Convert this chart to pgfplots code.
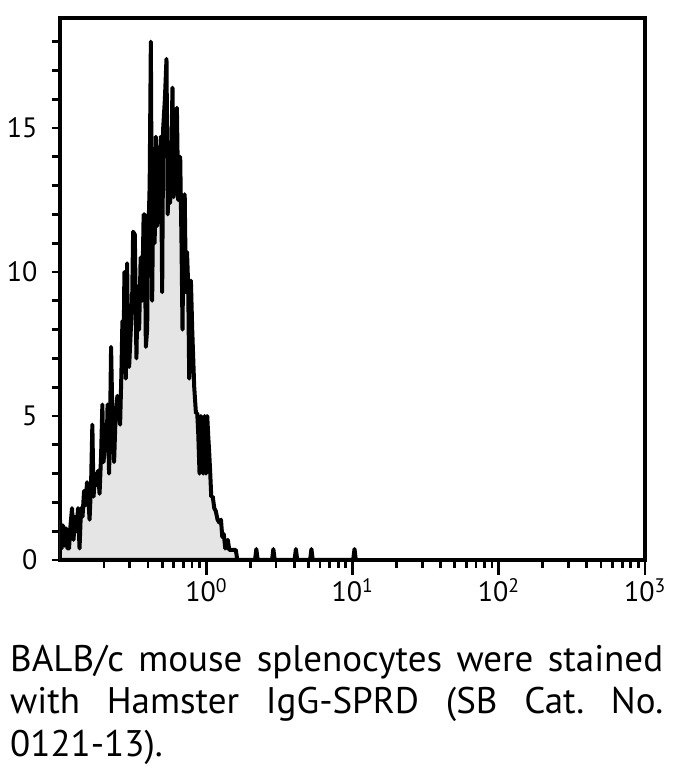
\documentclass[border=0pt]{standalone}
\usepackage{pgfplots}
\pgfplotsset{compat=1.18}
\usepackage{fontspec}
\setmainfont{PT Sans}
\begin{document}
\frenchspacing
\begin{tikzpicture}
\useasboundingbox (0,0) rectangle (673pt,772pt);
\begin{axis}[
  at={(60pt,212pt)}, anchor=south west,
  scale only axis, width=585pt, height=542pt,
  xmin=-1, xmax=3, ymin=0, ymax=18.82,
  axis line style={line width=3.2pt},
  tick style={line width=2.8pt, black},
  tick align=outside,
  xtick pos=bottom, ytick pos=left,
  major tick length=15pt, minor tick length=8pt,
  ytick={0,5,10,15},
  yticklabels={0,5,10,15},
  major y tick style={draw=none},
  minor ytick={0,1,2,3,4,5,6,7,8,9,10,11,12,13,14,15,16,17,18},
  xtick={0,1,2,3},
  xticklabels={10\textsuperscript{0},10\textsuperscript{1},10\textsuperscript{2},10\textsuperscript{3}},
  minor xtick={-0.69897,-0.52288,-0.39794,-0.30103,-0.22185,-0.15490,-0.09691,-0.04576,
               0.30103,0.47712,0.60206,0.69897,0.77815,0.84510,0.90309,0.95424,
               1.30103,1.47712,1.60206,1.69897,1.77815,1.84510,1.90309,1.95424,
               2.30103,2.47712,2.60206,2.69897,2.77815,2.84510,2.90309,2.95424},
  ticklabel style={font=\fontsize{28}{28}\selectfont},
  yticklabel style={xshift=-4pt},
]
\addplot[draw=black, line width=4pt, line join=round, fill=black!10] coordinates {
(-1.0000,1.4) (-0.9897,0.4) (-0.9795,1.2) (-0.9692,0.5) (-0.9589,1.1) (-0.9486,0.4) (-0.9384,0.4) (-0.9281,1.2) (-0.9178,1.8) (-0.9075,0.7) (-0.8973,1.5) (-0.8870,1.0) (-0.8767,1.8) (-0.8664,0.4) (-0.8562,1.8) (-0.8459,1.5) (-0.8356,2.4) (-0.8253,1.9) (-0.8151,2.7) (-0.8048,2.0) (-0.7979,1.4) (-0.7877,2.6) (-0.7788,4.7) (-0.7705,2.2) (-0.7603,3.0) (-0.7500,2.6) (-0.7397,3.1) (-0.7295,2.3) (-0.7192,3.6) (-0.7103,5.4) (-0.7021,3.4) (-0.6918,4.2) (-0.6815,3.8) (-0.6747,5.4) (-0.6644,3.0) (-0.6575,4.8) (-0.6507,7.4) (-0.6404,4.6) (-0.6301,3.4) (-0.6199,5.0) (-0.6075,5.7) (-0.5993,5.2) (-0.5890,4.7) (-0.5801,6.5) (-0.5733,8.3) (-0.5664,6.8) (-0.5596,10.0) (-0.5500,6.3) (-0.5411,10.3) (-0.5342,7.5) (-0.5274,6.7) (-0.5158,8.0) (-0.5068,9.0) (-0.5000,11.4) (-0.4884,11.3) (-0.4774,7.0) (-0.4692,9.5) (-0.4589,8.0) (-0.4486,10.5) (-0.4384,9.0) (-0.4281,12.0) (-0.4212,12.0) (-0.4130,7.4) (-0.4041,8.0) (-0.3973,11.0) (-0.3870,13.0) (-0.3788,18.0) (-0.3699,9.0) (-0.3610,13.4) (-0.3527,11.0) (-0.3445,14.7) (-0.3356,11.6) (-0.3288,12.5) (-0.3219,13.4) (-0.3103,14.7) (-0.3014,9.3) (-0.2945,15.0) (-0.2829,16.0) (-0.2719,17.4) (-0.2637,12.0) (-0.2568,13.0) (-0.2466,12.4) (-0.2397,14.0) (-0.2308,16.4) (-0.2226,12.6) (-0.2158,13.5) (-0.2089,12.8) (-0.2007,15.7) (-0.1918,12.5) (-0.1849,13.2) (-0.1781,14.0) (-0.1692,11.0) (-0.1623,8.0) (-0.1555,11.5) (-0.1473,12.7) (-0.1390,9.3) (-0.1315,10.7) (-0.1233,9.5) (-0.1164,6.3) (-0.1048,9.7) (-0.0959,8.0) (-0.0890,7.0) (-0.0822,6.0) (-0.0705,5.1) (-0.0616,5.1) (-0.0548,4.4) (-0.0459,3.0) (-0.0363,5.0) (-0.0274,4.2) (-0.0205,3.0) (-0.0116,5.0) (-0.0021,3.0) (0.0068,5.0) (0.0137,4.3) (0.0205,3.7) (0.0274,3.0) (0.0342,2.2) (0.0445,2.2) (0.0548,1.8) (0.0651,1.7) (0.0774,1.4) (0.0890,1.3) (0.1007,1.4) (0.1096,0.8) (0.1199,0.9) (0.1301,0.4) (0.1404,0.5) (0.1473,0.7) (0.1575,0.35) (0.1712,0.35) (0.1849,0.35) (0.2021,0.35) (0.2123,0) (0.3335,0) (0.3425,0.38) (0.3515,0) (0.4499,0) (0.4589,0.38) (0.4679,0) (0.6040,0) (0.6130,0.38) (0.6220,0) (0.7102,0) (0.7192,0.38) (0.7282,0) (1.0047,0) (1.0137,0.38) (1.0227,0)
} \closedcycle;
\end{axis}
\begin{scope}[every node/.style={anchor=base west, inner sep=0pt, font=\fontsize{37}{42}\selectfont}]
\node at (10pt,100pt) {\makebox[653pt][s]{BALB/c mouse splenocytes were stained}};
\node at (10pt,58pt) {\makebox[653pt][s]{with Hamster IgG-SPRD (SB Cat. No.}};
\node at (10pt,16pt) {0121-13).};
\end{scope}
\end{tikzpicture}
\end{document}
